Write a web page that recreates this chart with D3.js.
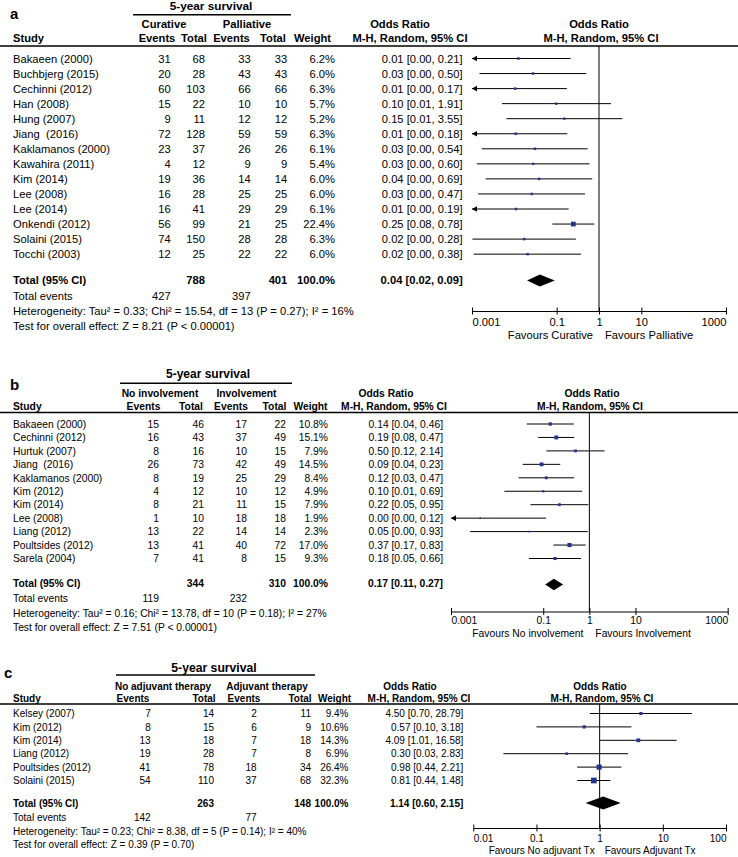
<!DOCTYPE html>
<html><head><meta charset="utf-8">
<script src="https://cdn.jsdelivr.net/npm/d3@7"></script>
<style>
html,body{margin:0;padding:0;background:#fff;}
svg{display:block;font-family:"Liberation Sans",Arial,sans-serif;}
text{white-space:pre;}
</style></head><body>
<svg id="chart" width="738" height="857"></svg>
<script>
// ---------- Panel a : Curative vs Palliative ----------
const studiesA = ["Bakaeen (2000)","Buchbjerg (2015)","Cechinni (2012)","Han (2008)","Hung (2007)","Jiang  (2016)","Kaklamanos (2000)","Kawahira (2011)","Kim (2014)","Lee (2008)","Lee (2014)","Onkendi (2012)","Solaini (2015)","Tocchi (2003)"];
const ev1A = [31,20,60,15,9,72,23,4,19,16,16,56,74,12];
const n1A  = [68,28,103,22,11,128,37,12,36,28,41,99,150,25];
const ev2A = [33,43,66,10,12,59,26,9,14,25,29,21,28,22];
const n2A  = [33,43,66,10,12,59,26,9,14,25,29,25,28,22];
const weightA = [6.2,6.0,6.3,5.7,5.2,6.3,6.1,5.4,6.0,6.0,6.1,22.4,6.3,6.0];
const orA = [0.0125,0.0277,0.0105,0.098,0.152,0.0108,0.0306,0.0279,0.0384,0.0259,0.011,0.248,0.0171,0.0206];
const loA = [0.0007,0.0015,0.0006,0.0051,0.0065,0.0007,0.0017,0.0013,0.0021,0.0014,0.0006,0.079,0.00102,0.0011];
const hiA = [0.213,0.50,0.174,1.91,3.55,0.178,0.541,0.597,0.693,0.4675,0.192,0.776,0.2845,0.376];
const totEventsA = [427,397];
const totNA = [788,401];
const pooledA = [0.04,0.02,0.09];
const groupsA = ["Curative","Palliative"];
const favoursA = ["Favours Curative","Favours Palliative"];
const ticksA = [0.001,0.1,1,10,1000];
const hetA = "Heterogeneity: Tau² = 0.33; Chi² = 15.54, df = 13 (P = 0.27); I² = 16%";
const testA = "Test for overall effect: Z = 8.21 (P < 0.00001)";

// ---------- Panel b : No involvement vs Involvement ----------
const studiesB = ["Bakaeen (2000)","Cechinni (2012)","Hurtuk (2007)","Jiang  (2016)","Kaklamanos (2000)","Kim (2012)","Kim (2014)","Lee (2008)","Liang (2012)","Poultsides (2012)","Sarela (2004)"];
const ev1B = [15,16,8,26,8,4,8,1,13,13,7];
const n1B  = [46,43,16,73,19,12,21,10,22,41,41];
const ev2B = [17,37,10,42,25,10,11,18,14,40,8];
const n2B  = [22,49,15,49,29,12,15,18,14,72,15];
const weightB = [10.8,15.1,7.9,14.5,8.4,4.9,7.9,1.9,2.3,17.0,9.3];
const orB = [0.142,0.192,0.50,0.092,0.116,0.10,0.224,0.0043,0.049,0.371,0.18];
const loB = [0.044,0.078,0.117,0.036,0.029,0.0144,0.0528,0.00016,0.0026,0.166,0.049];
const hiB = [0.46,0.472,2.14,0.234,0.468,0.693,0.948,0.1155,0.926,0.831,0.661];
const totEventsB = [119,232];
const totNB = [344,310];
const pooledB = [0.17,0.11,0.27];
const groupsB = ["No involvement","Involvement"];
const favoursB = ["Favours No involvement","Favours Involvement"];
const ticksB = [0.001,0.1,1,10,1000];
const hetB = "Heterogeneity: Tau² = 0.16; Chi² = 13.78, df = 10 (P = 0.18); I² = 27%";
const testB = "Test for overall effect: Z = 7.51 (P < 0.00001)";

// ---------- Panel c : No adjuvant vs Adjuvant therapy ----------
const studiesC = ["Kelsey (2007)","Kim (2012)","Kim (2014)","Liang (2012)","Poultsides (2012)","Solaini (2015)"];
const ev1C = [7,8,13,19,41,54];
const n1C  = [14,15,18,28,78,110];
const ev2C = [2,6,7,7,18,37];
const n2C  = [11,9,18,8,34,68];
const weightC = [9.4,10.6,14.3,6.9,26.4,32.3];
const orC = [4.50,0.57,4.09,0.30,0.98,0.81];
const loC = [0.70,0.10,1.01,0.03,0.44,0.44];
const hiC = [28.79,3.18,16.58,2.83,2.21,1.48];
const totEventsC = [142,77];
const totNC = [263,148];
const pooledC = [1.14,0.60,2.15];
const groupsC = ["No adjuvant therapy","Adjuvant therapy"];
const favoursC = ["Favours No adjuvant Tx","Favours Adjuvant Tx"];
const ticksC = [0.01,0.1,1,10,100];
const hetC = "Heterogeneity: Tau² = 0.23; Chi² = 8.38, df = 5 (P = 0.14); I² = 40%";
const testC = "Test for overall effect: Z = 0.39 (P = 0.70)";

const colHeads = ["Events","Total","Events","Total","Weight"];

const svg = d3.select("#chart");
const BLUE = "#25338f";

function drawPanel(D, L) {
  const g = svg.append("g");
  const fs = L.font;
  const txt = (s, x, y, anchor, bold, size) => {
    const f = size || fs;
    return g.append("text").attr("x", x).attr("y", y + f * 0.36)
      .attr("text-anchor", anchor || "start")
      .attr("font-size", f)
      .attr("font-weight", bold ? "bold" : "normal")
      .attr("fill", "#000").text(s);
  };
  const f2 = v => v.toFixed(2);
  const ciText = (o, l, h) => `${f2(o)} [${f2(l)}, ${f2(h)}]`;

  // headers
  txt(L.label, L.labelX, L.labelY, "start", true, 15);
  txt("5-year survival", L.titleX, L.titleY, "middle", true, L.titleFont);
  g.append("line").attr("x1", L.underline[0]).attr("x2", L.underline[1])
    .attr("y1", L.underlineY).attr("y2", L.underlineY).attr("stroke", "#000").attr("stroke-width", 1.4);
  txt(D.groups[0], L.groupX[0], L.groupY, "middle", true);
  txt(D.groups[1], L.groupX[1], L.groupY, "middle", true);
  txt("Study", 13, L.headY, "start", true);
  colHeads.forEach((h, i) => txt(h, L.headX[i], L.headY, "middle", true));
  txt("Odds Ratio", L.orLeftX, L.groupY, "middle", true);
  txt("M-H, Random, 95% CI", L.mhLeftX, L.headY, "middle", true);
  txt("Odds Ratio", L.orRightX, L.groupY, "middle", true);
  txt("M-H, Random, 95% CI", L.mhRightX, L.headY, "middle", true);
  g.append("line").attr("x1", 0).attr("x2", 738)
    .attr("y1", L.headerLineY).attr("y2", L.headerLineY).attr("stroke", "#000").attr("stroke-width", 1.4);

  const x = d3.scaleLog().domain(L.domain).range(L.xRange);
  const rowY = i => L.rowY0 + i * L.rowStep;

  // study rows
  D.studies.forEach((s, i) => {
    const y = rowY(i);
    txt(s, 13, y, "start");
    txt(String(D.ev1[i]), L.colX[0], y, "end");
    txt(String(D.n1[i]), L.colX[1], y, "end");
    txt(String(D.ev2[i]), L.colX[2], y, "end");
    txt(String(D.n2[i]), L.colX[3], y, "end");
    txt(D.weight[i].toFixed(1) + "%", L.colX[4], y, "end");
    txt(ciText(D.or[i], D.lo[i], D.hi[i]), L.ciRight, y, "end");
  });

  // vertical line at OR = 1
  g.append("line").attr("x1", x(1)).attr("x2", x(1))
    .attr("y1", L.headerLineY).attr("y2", L.axisY).attr("stroke", "#000").attr("stroke-width", 1);

  // CI lines, arrows, boxes
  const [dmin, dmax] = L.domain;
  D.studies.forEach((s, i) => {
    const y = rowY(i);
    const lo = Math.max(D.lo[i], dmin), hi = Math.min(D.hi[i], dmax);
    g.append("line").attr("x1", x(lo)).attr("x2", x(hi)).attr("y1", y).attr("y2", y)
      .attr("stroke", "#000").attr("stroke-width", 1);
    if (D.lo[i] < dmin) {
      const x0 = x(dmin);
      g.append("path").attr("d", `M${x0},${y}L${x0 + 5},${y - 2.8}L${x0 + 5},${y + 2.8}Z`).attr("fill", "#000");
    }
    if (D.hi[i] > dmax) {
      const x1 = x(dmax);
      g.append("path").attr("d", `M${x1},${y}L${x1 - 5},${y - 2.8}L${x1 - 5},${y + 2.8}Z`).attr("fill", "#000");
    }
    const side = Math.max(1.6, Math.sqrt(D.weight[i]) * 1.0);
    g.append("rect").attr("x", x(D.or[i]) - side / 2).attr("y", y - side / 2)
      .attr("width", side).attr("height", side).attr("fill", BLUE);
  });

  // total row
  txt("Total (95% CI)", 13, L.totalY, "start", true);
  txt(String(D.totN[0]), L.colX[1], L.totalY, "end", true);
  txt(String(D.totN[1]), L.colX[3], L.totalY, "end", true);
  txt("100.0%", L.colX[4], L.totalY, "end", true);
  txt(ciText(D.pooled[0], D.pooled[1], D.pooled[2]), L.ciRight, L.totalY, "end", true);
  const dy = L.totalY + L.diamondDy;
  g.append("path").attr("d",
    `M${x(D.pooled[1])},${dy}L${x(D.pooled[0])},${dy - L.diamondH}L${x(D.pooled[2])},${dy}L${x(D.pooled[0])},${dy + L.diamondH}Z`)
    .attr("fill", "#000");

  txt("Total events", 13, L.totEvY, "start");
  txt(String(D.totEvents[0]), L.colX[0], L.totEvY, "end");
  txt(String(D.totEvents[1]), L.colX[2], L.totEvY, "end");
  txt(D.het, 13, L.hetY, "start");
  txt(D.test, 13, L.testY, "start");

  // axis
  const axis = d3.axisBottom(x).tickValues(D.ticks).tickFormat(d3.format("~g")).tickSizeOuter(0).tickSizeInner(0);
  const ag = g.append("g").attr("transform", `translate(0,${L.axisY})`).call(axis);
  ag.select(".domain").attr("stroke", "#000").attr("stroke-width", 1);
  ag.selectAll(".tick line").attr("y1", -3.5).attr("y2", 3.5).attr("stroke", "#000");
  ag.selectAll(".tick text")
    .attr("y", L.tickLabelY - L.axisY + fs * 0.36).attr("dy", null)
    .attr("font-size", fs).attr("font-family", "Liberation Sans, Arial, sans-serif").attr("fill", "#000")
    .attr("text-anchor", (d, i) => i === 0 ? "start" : (i === D.ticks.length - 1 ? "end" : "middle"));
  txt(D.favours[0], x(1) - L.favGap, L.favY, "end");
  txt(D.favours[1], x(1) + L.favGap, L.favY, "start");
}

drawPanel(
  {studies: studiesA, ev1: ev1A, n1: n1A, ev2: ev2A, n2: n2A, weight: weightA, or: orA, lo: loA, hi: hiA,
   totEvents: totEventsA, totN: totNA, pooled: pooledA, groups: groupsA, favours: favoursA, ticks: ticksA, het: hetA, test: testA},
  {font: 11.2, label: "a", labelX: 10, labelY: 14, titleX: 211, titleY: 6, titleFont: 11.8,
   underline: [133, 291], underlineY: 14.7, groupY: 24, groupX: [164, 247], headY: 38,
   headX: [157, 194, 231.5, 273, 312.5], orLeftX: 400, mhLeftX: 410, orRightX: 599, mhRightX: 601,
   headerLineY: 46, rowY0: 58.5, rowStep: 15.05, colX: [170.7, 205, 250.7, 287.3, 335], ciRight: 462.7,
   totalY: 280, diamondDy: 0.5, diamondH: 6, totEvY: 296, hetY: 311, testY: 325.5,
   axisY: 311, tickLabelY: 322, favY: 334.5, favGap: 6,
   domain: [0.001, 1000], xRange: [472, 726]});

drawPanel(
  {studies: studiesB, ev1: ev1B, n1: n1B, ev2: ev2B, n2: n2B, weight: weightB, or: orB, lo: loB, hi: hiB,
   totEvents: totEventsB, totN: totNB, pooled: pooledB, groups: groupsB, favours: favoursB, ticks: ticksB, het: hetB, test: testB},
  {font: 10.3, label: "b", labelX: 10, labelY: 385, titleX: 208, titleY: 374, titleFont: 12,
   underline: [120, 292], underlineY: 383.3, groupY: 393, groupX: [160, 246.5], headY: 406,
   headX: [143.5, 191, 231, 274.5, 310.5], orLeftX: 386, mhLeftX: 394, orRightX: 592, mhRightX: 590,
   headerLineY: 412.5, rowY0: 424, rowStep: 13.45, colX: [159, 204, 247, 286, 328], ciRight: 443,
   totalY: 583.5, diamondDy: 1, diamondH: 5.8, totEvY: 598, hetY: 613.5, testY: 627.5,
   axisY: 611.5, tickLabelY: 620.5, favY: 633, favGap: 6,
   domain: [0.001, 1000], xRange: [451, 727.7]});

drawPanel(
  {studies: studiesC, ev1: ev1C, n1: n1C, ev2: ev2C, n2: n2C, weight: weightC, or: orC, lo: loC, hi: hiC,
   totEvents: totEventsC, totN: totNC, pooled: pooledC, groups: groupsC, favours: favoursC, ticks: ticksC, het: hetC, test: testC},
  {font: 10, label: "c", labelX: 4, labelY: 673, titleX: 214, titleY: 668, titleFont: 12.2,
   underline: [116, 315], underlineY: 675, groupY: 686, groupX: [163, 267], headY: 698,
   headX: [133, 204, 244, 300, 334.5], orLeftX: 410, mhLeftX: 419, orRightX: 600, mhRightX: 602,
   headerLineY: 704, rowY0: 713.5, rowStep: 13.4, colX: [150.7, 214, 256.7, 311, 348.5], ciRight: 463.3,
   totalY: 803, diamondDy: 0, diamondH: 6.5, totEvY: 817, hetY: 831, testY: 844.5,
   axisY: 828, tickLabelY: 838, favY: 850.5, favGap: 5,
   domain: [0.01, 100], xRange: [473.3, 726]});
</script>
</body></html>
